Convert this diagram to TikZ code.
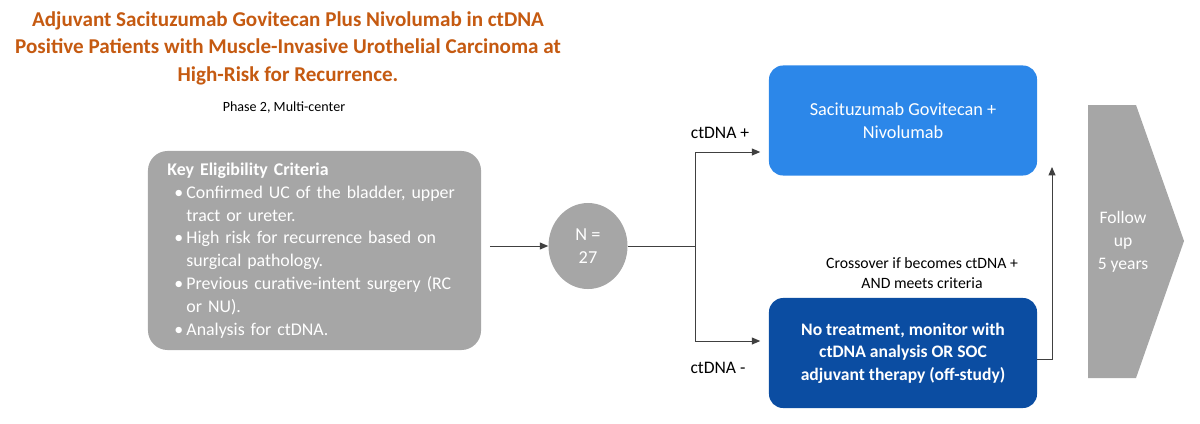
\documentclass[tikz,border=0pt]{standalone}
\usepackage{fontspec}
\setmainfont{Carlito}
\usetikzlibrary{arrows.meta,shapes.geometric}

\definecolor{titleorange}{HTML}{C55A11}
\definecolor{boxgray}{HTML}{A6A6A6}
\definecolor{armblue}{HTML}{2C87E9}
\definecolor{armnavy}{HTML}{0B4DA2}

\newcommand{\bul}{\hspace*{5pt}\makebox[8.5pt][l]{\textbullet}}
\newcommand{\cont}{\hspace*{13.5pt}}

\begin{document}
\begin{tikzpicture}[x=0.025cm, y=-0.025cm,
    every node/.style={inner sep=0pt},
    link/.style={draw=black!75, line width=0.7pt},
    arm/.style={link, -{Triangle[length=6pt,width=5pt]}},
    armbox/.style={rounded corners=10pt, minimum width=6.7cm, minimum height=2.75cm,
      text=white, align=center, font=\fontsize{13}{16}\selectfont}]
  \useasboundingbox (0,0) rectangle (1200,423);

  % title
  \node[text=titleorange, align=center, font=\fontsize{15}{19.5}\bfseries] (title) at (288,48)
    {Adjuvant Sacituzumab Govitecan Plus Nivolumab in ctDNA\\
     Positive Patients with Muscle-Invasive Urothelial Carcinoma at\\
     High-Risk for Recurrence.};
  \node[font=\fontsize{10}{12}\selectfont] (phase) at (284,108) {Phase 2, Multi-center};

  % eligibility
  \node[fill=boxgray, rounded corners=14pt, minimum width=8.325cm, minimum height=4.975cm,
        text width=7.35cm, align=left, text=white, font=\fontsize{12.7}{16.2}\selectfont] (elig) at (314.5,250.5)
    {\textbf{Key Eligibility Criteria}\\
     \bul Confirmed UC of the bladder, upper\\
     \cont tract or ureter.\\
     \bul High risk for recurrence based on\\
     \cont surgical pathology.\\
     \bul Previous curative-intent surgery (RC\\
     \cont or NU).\\
     \bul Analysis for ctDNA.};

  \node[ellipse, fill=boxgray, minimum width=1.975cm, minimum height=2.15cm, text=white,
        align=center, font=\fontsize{13}{16}\selectfont] (n) at (588,246) {N =\\27};

  % arms
  \node[armbox, fill=armblue] (sg) at (903,120.5) {Sacituzumab Govitecan +\\Nivolumab};
  \node[armbox, fill=armnavy, font=\fontsize{12.5}{16}\bfseries] (mon) at (903,353)
    {No treatment, monitor with\\ctDNA analysis OR SOC\\adjuvant therapy (off-study)};

  \coordinate (split) at (695,246);
  \coordinate (up) at (695,152);
  \coordinate (dn) at (695,341);
  \draw[arm, shorten <=6pt] (elig.east |- n.west) -- (n.west);
  \draw[link] (n.east) -- (split);
  \draw[link] (up) -- (dn);
  \draw[arm, shorten >=6pt] (up) -- (sg.west |- up);
  \draw[arm, shorten >=6pt] (dn) -- (mon.west |- dn);

  \node[font=\fontsize{12.5}{14}\selectfont] (pos) at (720,133) {ctDNA +};
  \node[font=\fontsize{12.5}{14}\selectfont] (neg) at (718,368) {ctDNA -};

  % crossover
  \coordinate (crossbot) at (1052,359);
  \coordinate (crosstop) at (1052,167);
  \draw[arm] (mon.east |- crossbot) -- (crossbot) -- (crosstop);
  \node[align=center, font=\fontsize{11.2}{14}\selectfont] (cross) at (922,273)
    {Crossover if becomes ctDNA +\\AND meets criteria};

  % follow up
  \fill[boxgray] (1088,105) -- (1136,105) -- (1184,241) -- (1136,378) -- (1088,378) -- cycle;
  \node[text=white, align=center, font=\fontsize{12.5}{16.5}\selectfont] (fu) at (1123,242)
    {Follow\\up\\5 years};
\end{tikzpicture}
\end{document}
